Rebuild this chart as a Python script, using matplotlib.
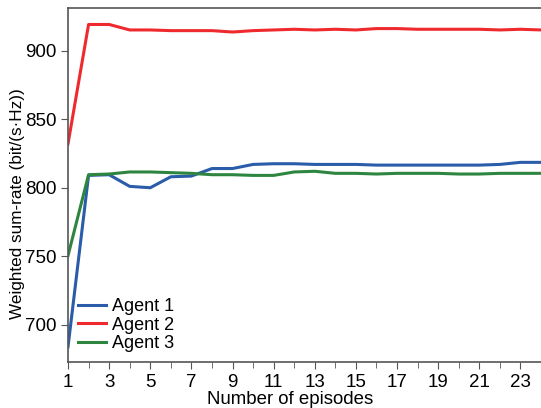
import matplotlib
matplotlib.use('Agg')
import matplotlib.pyplot as plt

plt.rcParams['font.family'] = ['Liberation Sans', 'DejaVu Sans']

episodes = list(range(1, 25))
agent1 = [684, 809, 809.5, 801, 800, 808, 808.5, 814, 814, 817, 817.5, 817.5,
          817, 817, 817, 816.5, 816.5, 816.5, 816.5, 816.5, 816.5, 817, 818.5, 818.5]
agent2 = [832, 919, 919, 915, 915, 914.5, 914.5, 914.5, 913.5, 914.5, 915, 915.5,
          915, 915.5, 915, 916, 916, 915.5, 915.5, 915.5, 915.5, 915, 915.5, 915]
agent3 = [750.5, 809.5, 810, 811.5, 811.5, 811, 810.5, 809.5, 809.5, 809, 809, 811.5,
          812, 810.5, 810.5, 810, 810.5, 810.5, 810.5, 810, 810, 810.5, 810.5, 810.5]

fig = plt.figure(figsize=(5.41, 4.08), dpi=100)
ax = fig.add_axes([68 / 541, 1 - 362 / 408, 1 - 68 / 541, (362 - 8) / 408])

ax.plot(episodes, agent1, color='#2a5caa', lw=2.2, label='Agent 1')
ax.plot(episodes, agent2, color='#ee2a2e', lw=2.2, label='Agent 2')
ax.plot(episodes, agent3, color='#2e8540', lw=2.2, label='Agent 3')

ax.set_xlim(1, 23.8)
ax.set_ylim(673, 931)
ax.set_xticks(range(1, 24, 2))
ax.set_xticks(range(2, 25, 2), minor=True)
ax.set_yticks([700, 750, 800, 850, 900])

for s in ax.spines.values():
    s.set_color('#555555')
    s.set_linewidth(1.2)
ax.spines['right'].set_visible(False)

ax.tick_params(axis='both', which='both', direction='out', color='#555555', labelsize=13.5)
ax.tick_params(axis='both', which='major', length=5)
ax.tick_params(axis='x', which='minor', length=4)

ax.set_xlabel('Number of episodes', fontsize=13.4)
ax.set_ylabel('Weighted sum-rate (bit/(s·Hz))', fontsize=12.3)
ax.xaxis.set_label_coords(0.469, -0.083)
ax.yaxis.set_label_coords(-0.09, 0.447)

ax.legend(loc='lower left', frameon=False, fontsize=13, handlelength=1.55,
          handletextpad=0.35, labelspacing=0.08, borderaxespad=0.25,
          borderpad=0.3)

fig.savefig('out.png', dpi=100)
